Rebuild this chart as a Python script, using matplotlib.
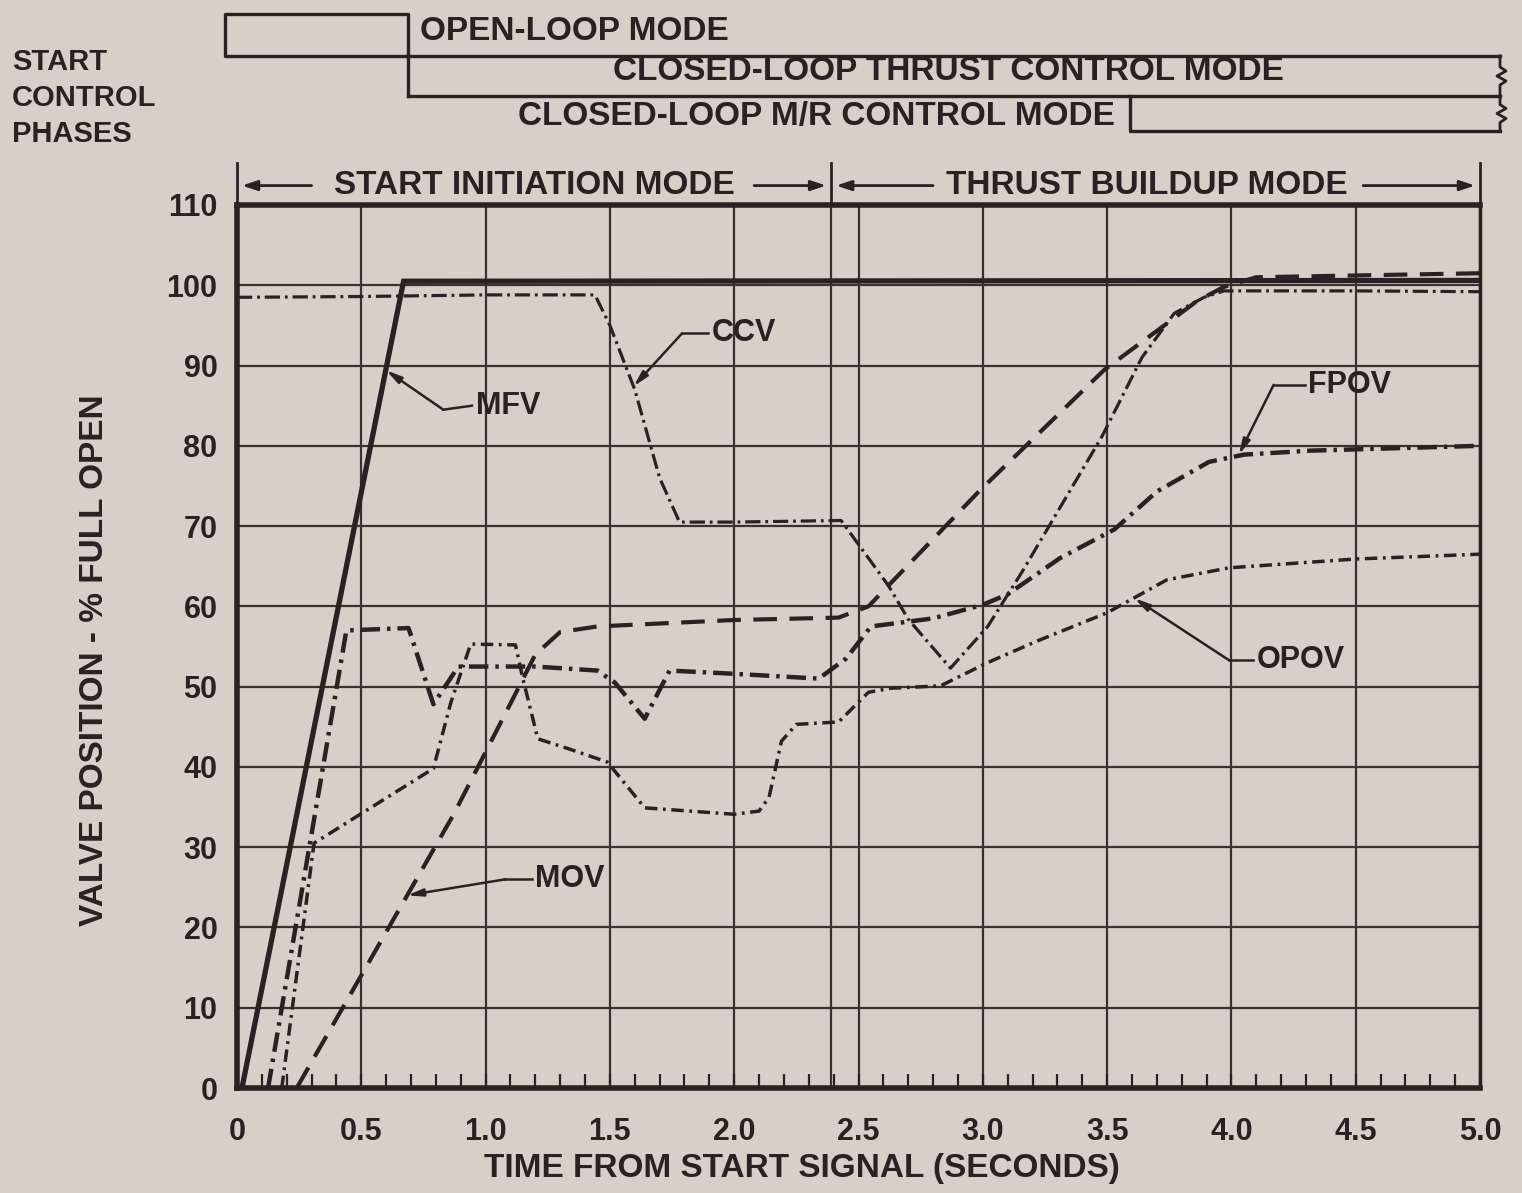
import numpy as np
import matplotlib
matplotlib.use("Agg")
import matplotlib.pyplot as plt

plt.rcParams['font.family'] = ['Liberation Sans', 'DejaVu Sans']
plt.rcParams['lines.scale_dashes'] = False

# ---------------- data ----------------
t_mfv = [0.02, 0.67, 5.0]
v_mfv = [0.0, 100.5, 100.6]

t_ccv = [0.0, 0.5, 1.0, 1.44, 1.5, 1.6, 1.7, 1.78, 2.0, 2.43, 2.62, 2.7, 2.87,
         3.02, 3.16, 3.48, 3.64, 3.77, 3.89, 3.97, 4.5, 5.0]
v_ccv = [98.5, 98.6, 98.8, 98.8, 95.0, 87.0, 76.0, 70.5, 70.5, 70.7, 62.6, 58.4, 52.3,
         57.5, 64.4, 81.2, 91.0, 96.5, 98.5, 99.3, 99.3, 99.2]

t_mov = [0.24, 0.87, 1.11, 1.2, 1.3, 1.45, 2.0, 2.42, 2.54, 2.99, 3.49, 3.73, 3.86,
         3.97, 4.1, 5.0]
v_mov = [0.0, 34.0, 48.5, 54.0, 56.8, 57.5, 58.3, 58.6, 60.0, 74.5, 89.5, 95.0, 98.0,
         99.8, 101.0, 101.5]

t_fpov = [0.125, 0.44, 0.69, 0.79, 0.89, 1.2, 1.45, 1.52, 1.64, 1.74, 2.0, 2.34, 2.45,
          2.55, 2.8, 3.0, 3.1, 3.31, 3.53, 3.7, 3.91, 4.05, 4.32, 5.0]
v_fpov = [0.0, 57.0, 57.3, 47.8, 52.5, 52.5, 52.0, 50.5, 46.0, 52.0, 51.6, 51.0, 53.5,
          57.5, 58.5, 60.2, 61.5, 66.0, 69.6, 74.3, 78.0, 78.9, 79.4, 80.0]

t_opov = [0.18, 0.31, 0.79, 0.86, 0.94, 1.12, 1.15, 1.21, 1.33, 1.49, 1.64, 2.0, 2.1,
          2.14, 2.19, 2.25, 2.42, 2.54, 2.63, 2.83, 3.02, 3.22, 3.5, 3.74, 3.99, 4.5, 5.0]
v_opov = [0.0, 30.5, 39.8, 48.0, 55.3, 55.2, 51.0, 43.5, 42.3, 40.6, 34.9, 34.1, 34.5,
          36.2, 43.2, 45.3, 45.6, 49.3, 49.8, 50.1, 53.0, 55.7, 59.2, 63.3, 64.8, 65.9, 66.5]

x_ticks = [0, 0.5, 1.0, 1.5, 2.0, 2.5, 3.0, 3.5, 4.0, 4.5, 5.0]
x_ticklabels = ['0', '0.5', '1.0', '1.5', '2.0', '2.5', '3.0', '3.5', '4.0', '4.5', '5.0']
y_ticks = list(range(0, 111, 10))
mode_boundary = 2.39

# label: (text, text_xy, corner_xy, tip_xy)
labels = [
    ('MFV', (0.96, 85.0), (0.83, 84.5), (0.60, 89.4)),
    ('CCV', (1.91, 94.0), (1.79, 94.0), (1.595, 87.4)),
    ('MOV', (1.20, 26.0), (1.08, 26.0), (0.685, 24.0)),
    ('FPOV', (4.31, 87.6), (4.17, 87.6), (4.03, 78.9)),
    ('OPOV', (4.10, 53.3), (3.99, 53.3), (3.61, 61.0)),
]

paper = '#d9cfc8'
ink = '#2a2222'
gridc = '#3a3131'

W, H = 1522, 1193
fig = plt.figure(figsize=(W / 100, H / 100), dpi=100)
fig.patch.set_facecolor(paper)

L, R, T, B = 237, 1480, 205, 1088
ax = fig.add_axes([L / W, 1 - B / H, (R - L) / W, (B - T) / H])
ax.set_facecolor(paper)
ax.set_xlim(0, 5)
ax.set_ylim(0, 110)

ax.set_xticks(x_ticks)
ax.set_xticklabels(x_ticklabels)
ax.set_yticks(y_ticks)
minor = [round(v, 1) for v in np.arange(0.1, 5.0, 0.1) if abs(v * 2 - round(v * 2)) > 1e-6]
ax.set_xticks(minor, minor=True)
ax.grid(True, which='major', color=gridc, lw=1.6)
ax.axvline(mode_boundary, color=gridc, lw=1.6)
ax.tick_params(axis='x', which='major', direction='in', length=10, width=1.6,
               color=ink, pad=21, labelsize=22, labelcolor=ink)
ax.tick_params(axis='x', which='minor', direction='in', length=10, width=1.6, color=ink)
ax.tick_params(axis='y', length=0, pad=14, labelsize=22, labelcolor=ink)
for lab in ax.get_xticklabels() + ax.get_yticklabels():
    lab.set_fontweight('bold')
for side, lw in [('left', 4), ('bottom', 4), ('top', 4), ('right', 2.5)]:
    ax.spines[side].set_linewidth(lw)
    ax.spines[side].set_color(ink)

# curves
ax.plot(t_mfv, v_mfv, color=ink, lw=3.8, solid_joinstyle='miter')
l, = ax.plot(t_ccv, v_ccv, color=ink, lw=2.3)
l.set_dashes([11, 3.5, 2, 3.5])
l, = ax.plot(t_mov, v_mov, color=ink, lw=3.0)
l.set_dashes([17, 9])
l, = ax.plot(t_fpov, v_fpov, color=ink, lw=3.2)
l.set_dashes([14, 5, 2.5, 5])
l, = ax.plot(t_opov, v_opov, color=ink, lw=2.5)
l.set_dashes([9, 4, 2, 4])

# line labels with leaders
for txt, tpos, corner, tip in labels:
    ax.text(tpos[0], tpos[1], txt, fontsize=22, fontweight='bold', color=ink,
            ha='left', va='center')
    ax.plot([tpos[0] - 0.015, corner[0]], [tpos[1], corner[1]], color=ink, lw=1.8)
    ax.annotate('', xy=tip, xytext=corner,
                arrowprops=dict(arrowstyle='-|>,head_length=0.9,head_width=0.22',
                                color=ink, lw=1.8, shrinkA=0, shrinkB=0))

# mode header above the plot
trans = ax.get_xaxis_transform()
for xv in [0.0, mode_boundary, 5.0]:
    ax.plot([xv, xv], [1.0, 1.047], transform=trans, clip_on=False, color=ink, lw=2)
yh = 1.022
ax.text(1.195, yh, 'START INITIATION MODE', transform=trans, ha='center', va='center',
        fontsize=24, fontweight='bold', color=ink)
ax.text(3.66, yh, 'THRUST BUILDUP MODE', transform=trans, ha='center', va='center',
        fontsize=24, fontweight='bold', color=ink)
arrow_kw = dict(arrowstyle='-|>,head_length=0.9,head_width=0.3', color=ink, lw=2,
                shrinkA=0, shrinkB=0)
for x0, x1 in [(0.30, 0.02), (2.08, 2.37), (2.80, 2.41), (4.53, 4.98)]:
    ax.annotate('', xy=(x1, yh), xycoords=trans, xytext=(x0, yh), textcoords=trans,
                arrowprops=arrow_kw, annotation_clip=False)

# start-control-phase diagram (figure pixel overlay)
ov = fig.add_axes([0, 0, 1, 1])
ov.set_xlim(0, W)
ov.set_ylim(H, 0)
ov.axis('off')
ov.patch.set_alpha(0)
blw = 2.4
ov.plot([408, 225, 225, 408, 408], [56, 56, 14, 14, 96], color=ink, lw=blw)
ov.plot([408, 1500], [56, 56], color=ink, lw=blw)
ov.plot([408, 1500], [96, 96], color=ink, lw=blw)
ov.plot([1130, 1130, 1500], [96, 131, 131], color=ink, lw=blw)
for top, bot in [(56, 96), (96, 131)]:
    mid = (top + bot) / 2
    ov.plot([1500, 1500, 1506, 1497, 1506, 1500, 1500],
            [top, mid - 9, mid - 5, mid, mid + 5, mid + 9, bot], color=ink, lw=2)
ov.text(420, 32, 'OPEN-LOOP MODE', fontsize=24, fontweight='bold', color=ink,
        ha='left', va='center')
ov.text(948, 72, 'CLOSED-LOOP THRUST CONTROL MODE', fontsize=24, fontweight='bold',
        color=ink, ha='center', va='center')
ov.text(1115, 116, 'CLOSED-LOOP M/R CONTROL MODE', fontsize=24, fontweight='bold',
        color=ink, ha='right', va='center')
for i, w in enumerate(['START', 'CONTROL', 'PHASES']):
    ov.text(12, 62 + 36 * i, w, fontsize=21, fontweight='bold', color=ink,
            ha='left', va='center')

fig.text(95 / W, 1 - 660 / H, 'VALVE POSITION - % FULL OPEN', rotation=90,
         fontsize=24, fontweight='bold', color=ink, ha='center', va='center')
fig.text(802 / W, 1 - 1168 / H, 'TIME FROM START SIGNAL (SECONDS)',
         fontsize=24, fontweight='bold', color=ink, ha='center', va='center')

fig.savefig('out.png', dpi=100, facecolor=paper)
